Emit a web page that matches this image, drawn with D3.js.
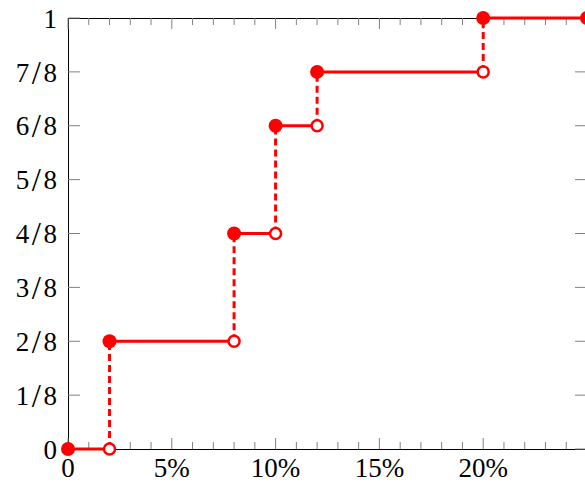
<!DOCTYPE html>
<html>
<head>
<meta charset="utf-8">
<script src="https://cdn.jsdelivr.net/npm/d3@7"></script>
<style>
  body { margin: 0; background: #fff; }
  svg { display: block; }
</style>
</head>
<body>
<div id="chart"></div>
<script>
// step points of the distribution (x in percent, y in eighths)
var stepX = [0, 2, 8, 10, 12, 20, 25];
var stepY = [0, 2, 4, 6, 7, 8];
var xTicks = [0, 5, 10, 15, 20];
var xTickLabels = ["0", "5%", "10%", "15%", "20%"];
var yTicks = [0, 1, 2, 3, 4, 5, 6, 7, 8];
var yTickLabels = ["0", "1/8", "2/8", "3/8", "4/8", "5/8", "6/8", "7/8", "1"];

var width = 585, height = 483;
var red = "#ff0000";
var serif = "'Liberation Serif', 'Times New Roman', Times, serif";

var svg = d3.select("#chart").append("svg")
    .attr("width", width)
    .attr("height", height)
    .style("font-family", serif)
    .style("font-size", "27px");

var x = d3.scaleLinear().domain([0, 25]).range([68, 587]);
var y = d3.scaleLinear().domain([0, 8]).range([449, 18]);

var minorX = d3.range(0, 26, 1).filter(function(d) { return d % 5 !== 0; });

// box
var box = svg.append("g").attr("shape-rendering", "crispEdges");
box.append("rect")
    .attr("x", x(0)).attr("y", y(8))
    .attr("width", x(25) - x(0)).attr("height", y(0) - y(8))
    .attr("fill", "none").attr("stroke", "#000").attr("stroke-width", 1);

// ticks
var ticks = svg.append("g").attr("stroke", "#808080").attr("stroke-width", 1);
xTicks.concat([25]).forEach(function(d) {
  ticks.append("line").attr("x1", x(d)).attr("x2", x(d)).attr("y1", y(0)).attr("y2", y(0) - 11);
  ticks.append("line").attr("x1", x(d)).attr("x2", x(d)).attr("y1", y(8)).attr("y2", y(8) + 11);
});
minorX.forEach(function(d) {
  ticks.append("line").attr("x1", x(d)).attr("x2", x(d)).attr("y1", y(0)).attr("y2", y(0) - 7);
  ticks.append("line").attr("x1", x(d)).attr("x2", x(d)).attr("y1", y(8)).attr("y2", y(8) + 7);
});
yTicks.forEach(function(d) {
  ticks.append("line").attr("x1", x(0)).attr("x2", x(0) + 12).attr("y1", y(d)).attr("y2", y(d));
  ticks.append("line").attr("x1", x(25)).attr("x2", x(25) - 12).attr("y1", y(d)).attr("y2", y(d));
});

// tick labels
svg.append("g").selectAll("text")
  .data(xTicks)
  .enter().append("text")
    .attr("x", function(d) { return x(d); })
    .attr("y", 477)
    .attr("text-anchor", "middle")
    .text(function(d, i) { return xTickLabels[i]; });

var yLab = svg.append("g").selectAll("text")
  .data(yTicks)
  .enter().append("text")
    .attr("x", 57)
    .attr("y", function(d) { return y(d); })
    .attr("dy", "0.36em")
    .attr("text-anchor", "end");

yLab.each(function(d, i) {
  var t = d3.select(this), parts = yTickLabels[i].split("/");
  if (parts.length === 1) { t.text(parts[0]); return; }
  t.append("tspan").text(parts[0]);
  t.append("tspan").attr("dx", 2.5).style("font-size", "33px").attr("dy", 2).text("/");
  t.append("tspan").attr("dx", 2.5).attr("dy", -2).text(parts[1]);
});

// step function
var g = svg.append("g");
var segs = stepY.map(function(v, i) { return { y: v, x0: stepX[i], x1: stepX[i + 1] }; });

g.selectAll(".h").data(segs).enter().append("line")
    .attr("x1", function(d) { return x(d.x0); })
    .attr("x2", function(d) { return x(d.x1); })
    .attr("y1", function(d) { return y(d.y); })
    .attr("y2", function(d) { return y(d.y); })
    .attr("stroke", red).attr("stroke-width", 3);

var jumps = stepY.slice(1).map(function(v, i) { return { x: stepX[i + 1], y0: stepY[i], y1: v }; });

g.selectAll(".v").data(jumps).enter().append("line")
    .attr("x1", function(d) { return x(d.x); })
    .attr("x2", function(d) { return x(d.x); })
    .attr("y1", function(d) { return y(d.y0); })
    .attr("y2", function(d) { return y(d.y1); })
    .attr("stroke", red).attr("stroke-width", 3)
    .attr("stroke-dasharray", "7,4");

// open circles at the end of each level
g.selectAll(".open").data(jumps).enter().append("circle")
    .attr("cx", function(d) { return x(d.x); })
    .attr("cy", function(d) { return y(d.y0); })
    .attr("r", 5.5)
    .attr("fill", "#fff").attr("stroke", red).attr("stroke-width", 2.5);

// filled circles at the start of each level
var filled = stepY.map(function(v, i) { return { x: stepX[i], y: v }; });
filled.push({ x: stepX[stepX.length - 1], y: stepY[stepY.length - 1] });
g.selectAll(".fill").data(filled).enter().append("circle")
    .attr("cx", function(d) { return x(d.x); })
    .attr("cy", function(d) { return y(d.y); })
    .attr("r", 7)
    .attr("fill", red);
</script>
</body>
</html>
